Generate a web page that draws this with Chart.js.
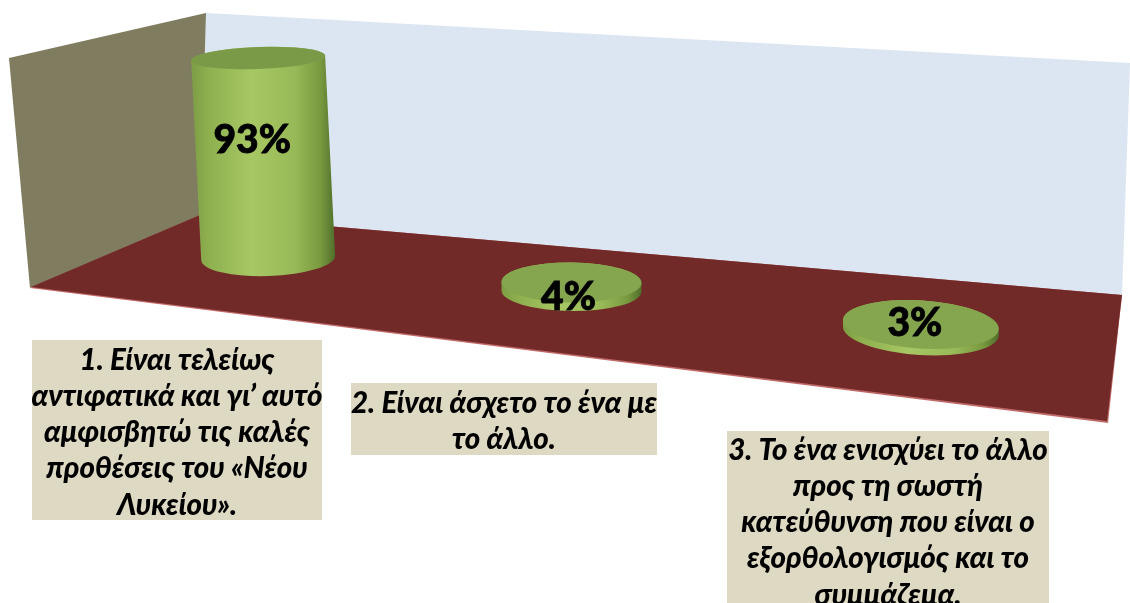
<!DOCTYPE html>
<html lang="el">
<head>
<meta charset="utf-8">
<title>Chart</title>
<script src="https://cdn.jsdelivr.net/npm/chart.js@4"></script>
<style>
  html, body { margin: 0; padding: 0; background: #fff; overflow: hidden; }
  #wrap { width: 1130px; height: 603px; }
</style>
</head>
<body>
<div id="wrap"><canvas id="grafico"></canvas></div>
<script>
const categorias = [
  ['1. Είναι τελείως', 'αντιφατικά και γι’ αυτό', 'αμφισβητώ τις καλές', 'προθέσεις του «Νέου', 'Λυκείου».'],
  ['2. Είναι άσχετο το ένα με', 'το άλλο.'],
  ['3. Το ένα ενισχύει το άλλο', 'προς τη σωστή', 'κατεύθυνση που είναι ο', 'εξορθολογισμός και το', 'συμμάζεμα.']
];
const valores = [93, 4, 3];

// perspective of each cylinder, relative to the place the scales give it
const geometria = [
  { dx: 0, dy: -35, rx: 67, ryTop: 11, ryBase: 18, rot: -2, tilt: -0.05, lx: -16, ly: 140 },
  { dx: -23, dy: -2, rx: 70, ryTop: 20, ryBase: 20, rot: 0.5, tilt: 0, lx: -3, ly: 297 },
  { dx: 0, dy: 38, rx: 78, ryTop: 24, ryBase: 24, rot: 3.5, tilt: 0, lx: -6, ly: 323 }
];
const caixas = [
  { x: 32, y: 340, w: 290, h: 180, first: 360 },
  { x: 351, y: 383, w: 306, h: 72, first: 403 },
  { x: 727, y: 431, w: 322, h: 172, first: 450 }
];

function poligono(ctx, pts, cor) {
  ctx.beginPath();
  pts.forEach((p, i) => i ? ctx.lineTo(p[0], p[1]) : ctx.moveTo(p[0], p[1]));
  ctx.closePath();
  ctx.fillStyle = cor;
  ctx.fill();
}

const sala = {
  id: 'sala',
  beforeDatasetsDraw(chart) {
    const ctx = chart.ctx;
    ctx.save();
    poligono(ctx, [[206, 13], [1130, 63], [1122, 296], [200, 216]], '#dce6f2');
    poligono(ctx, [[9, 58], [206, 13], [200, 216], [30, 288]], '#7f7c60');
    poligono(ctx, [[30, 288], [1108, 423], [1122, 295], [200, 215]], '#c06a68');
    poligono(ctx, [[31, 287], [1107, 421], [1122, 295], [200, 215]], '#722a28');
    ctx.restore();
  }
};

const cilindros = {
  id: 'cilindros',
  afterDatasetsDraw(chart) {
    const ctx = chart.ctx;
    const barras = chart.getDatasetMeta(0).data;
    ctx.save();
    barras.forEach((b, i) => {
      const g = geometria[i];
      const rot = g.rot * Math.PI / 180;
      const bx = b.x + g.dx, by = b.base + g.dy;
      const h = b.base - b.y;
      const tx = bx + g.tilt * h, ty = by - h;

      const lado = ctx.createLinearGradient(Math.min(bx, tx) - g.rx, 0, Math.max(bx, tx) + g.rx, 0);
      lado.addColorStop(0, '#7d9c45');
      lado.addColorStop(0.12, '#8fb04f');
      lado.addColorStop(0.42, '#a6c763');
      lado.addColorStop(0.72, '#98b957');
      lado.addColorStop(0.9, '#79993f');
      lado.addColorStop(1, '#4f6f2b');

      ctx.beginPath();
      ctx.ellipse(bx, by, g.rx, g.ryBase, rot, Math.PI, 0, true);
      ctx.ellipse(tx, ty, g.rx, g.ryTop, rot, 0, Math.PI, true);
      ctx.closePath();
      ctx.fillStyle = lado;
      ctx.fill();

      ctx.beginPath();
      ctx.ellipse(tx, ty, g.rx, g.ryTop, rot, 0, Math.PI * 2);
      ctx.fillStyle = i === 0 ? '#7a9a48' : '#85a54e';
      ctx.fill();

      ctx.fillStyle = '#000';
      ctx.strokeStyle = '#000';
      ctx.lineWidth = 0.8;
      ctx.font = '900 39px Lato, "Open Sans", "Noto Sans", sans-serif';
      ctx.textAlign = 'center';
      ctx.textBaseline = 'middle';
      ctx.fillText(valores[i] + '%', b.x + g.dx + g.lx, g.ly);
      ctx.strokeText(valores[i] + '%', b.x + g.dx + g.lx, g.ly);
    });

    categorias.forEach((linhas, i) => {
      const c = caixas[i];
      ctx.fillStyle = '#ddd9c3';
      ctx.fillRect(c.x, c.y, c.w, c.h);
      ctx.fillStyle = '#000';
      ctx.font = 'italic 900 29.5px Lato, "Open Sans", "Noto Sans", sans-serif';
      ctx.textAlign = 'center';
      ctx.textBaseline = 'middle';
      linhas.forEach((t, j) => ctx.fillText(t, c.x + c.w / 2, c.first + j * 36.3));
    });
    ctx.restore();
  }
};

new Chart(document.getElementById('grafico'), {
  type: 'bar',
  data: {
    labels: categorias.map(l => l.join(' ')),
    datasets: [{
      label: 'Ποσοστό',
      data: valores,
      backgroundColor: 'transparent',
      borderWidth: 0
    }]
  },
  options: {
    responsive: true,
    maintainAspectRatio: false,
    animation: false,
    layout: { padding: { left: 105, right: 46, top: 78, bottom: 310 } },
    plugins: { legend: { display: false }, tooltip: { enabled: false } },
    scales: {
      x: { display: false },
      y: { display: false, min: 0, max: 100 }
    }
  },
  plugins: [sala, cilindros]
});
</script>
</body>
</html>
